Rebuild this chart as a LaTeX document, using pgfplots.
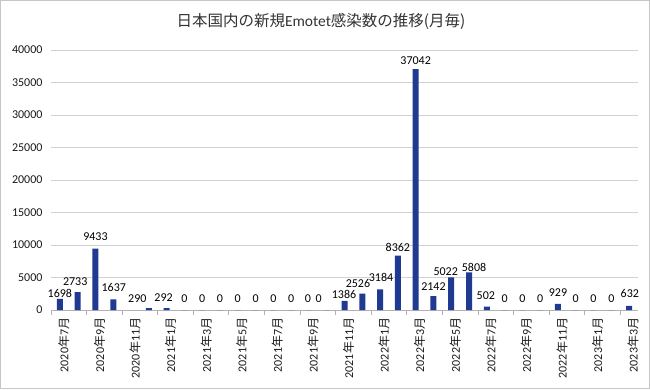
\documentclass[border=0pt]{standalone}
\usepackage{fontspec}
\setmainfont{Carlito}
\newfontfamily\jp{Noto Sans CJK JP}
\usepackage{pgfplots}
\usepackage{pgfplotstable}
\pgfplotsset{compat=1.18}
\definecolor{barc}{RGB}{32,58,145}
\newcommand\ym[2]{#1{\jp 年}#2{\jp 月}}
\pgfplotstableread{
x y dx dy
0 1698 0 6
1 2733 -2.5 11
2 9433 0 12
3 1637 0.5 11.4
5 290 -11.5 9.8
6 292 -3 10
7 0 0 11
8 0 0 11
9 0 0 11
10 0 0 11
11 0 0 11
12 0 0 11
13 0 0 11
14 0 -1 11
15 0 -8 11
16 1386 -0.5 6.7
17 2526 -4.3 10
18 3184 1 12
19 8362 0 8
20 37042 0 8.5
21 2142 0 9.7
22 5022 -5.5 6.2
23 5808 5 4.5
24 502 -1 11
25 0 0 11
26 0 0 11
27 0 0 11
28 929 0 11.5
29 0 0 11
30 0 0 11
31 0 0 11
32 632 0.7 12
}\datatable
\begin{document}
\begin{tikzpicture}[x=1pt,y=1pt]
\useasboundingbox (0,0) rectangle (650,389);
\draw[gray!45,line width=1pt] (0.5,0.5) rectangle (649.5,388.5);
\node[font=\fontsize{15.5}{18}\selectfont\jp, text=black!80] at (321,368) {日本国内の新規{\rmfamily Emotet}感染数の推移(月毎)};
\begin{axis}[
  at={(51pt,79pt)}, anchor=south west, scale only axis,
  width=587pt, height=260pt,
  ybar, bar width=6pt,
  xmin=-0.5, xmax=32.5, ymin=0, ymax=40000,
  ytick={0,5000,...,40000},
  ymajorgrids, grid style={gray!35, line width=0.8pt},
  axis lines*=left,
  y axis line style={draw=none},
  x axis line style={gray!60, line width=0.8pt},
  ytick style={draw=none},
  xtick={0,2,...,32},
  xticklabels={\ym{2020}{7},\ym{2020}{9},\ym{2020}{11},\ym{2021}{1},\ym{2021}{3},\ym{2021}{5},\ym{2021}{7},\ym{2021}{9},\ym{2021}{11},\ym{2022}{1},\ym{2022}{3},\ym{2022}{5},\ym{2022}{7},\ym{2022}{9},\ym{2022}{11},\ym{2023}{1},\ym{2023}{3}},
  major x tick style={draw=none},
  minor xtick={-0.5,1.5,...,31.5},
  minor x tick style={gray!60, line width=0.8pt},
  minor tick length=5pt,
  xtick align=outside,
  scaled y ticks=false,
  /pgf/number format/.cd, fixed, precision=0, 1000 sep={}, assume math mode=true,
  /pgfplots/.cd,
  yticklabel style={font=\fontsize{12}{14}\selectfont, text=black!90, xshift=-5pt},
  xticklabel style={font=\fontsize{12}{14}\selectfont, text=black!90, rotate=90, anchor=east, yshift=-4pt},
]
\addplot[fill=barc, draw=none,
  nodes near coords,
  visualization depends on={\thisrow{dx} \as \dx},
  visualization depends on={\thisrow{dy} \as \dy},
  every node near coord/.append style={font=\fontsize{12}{14}\selectfont, text=black, anchor=center, inner sep=0pt, xshift=\dx, yshift=\dy},
] table[x=x, y=y] {\datatable};
\end{axis}
\end{tikzpicture}
\end{document}
